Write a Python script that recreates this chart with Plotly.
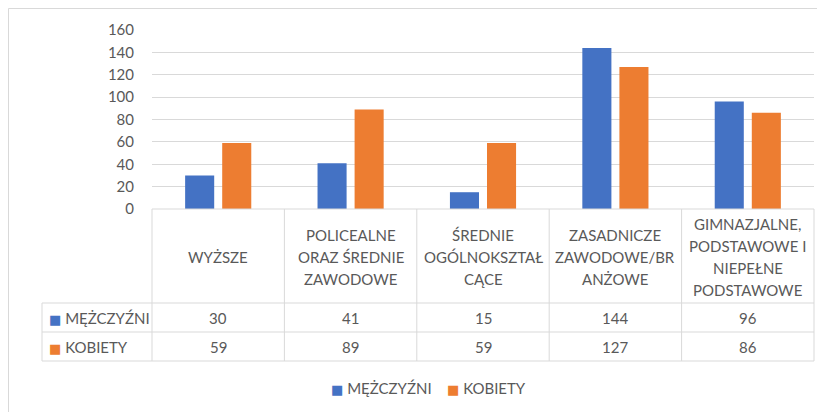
import plotly.graph_objects as go

# ---- data ----
categories = ["WYŻSZE", "POLICEALNE ORAZ ŚREDNIE ZAWODOWE", "ŚREDNIE OGÓLNOKSZTAŁCĄCE",
              "ZASADNICZE ZAWODOWE/BRANŻOWE", "GIMNAZJALNE, PODSTAWOWE I NIEPEŁNE PODSTAWOWE"]
header_lines = [["WYŻSZE"],
                ["POLICEALNE", "ORAZ ŚREDNIE", "ZAWODOWE"],
                ["ŚREDNIE", "OGÓLNOKSZTAŁ", "CĄCE"],
                ["ZASADNICZE", "ZAWODOWE/BR", "ANŻOWE"],
                ["GIMNAZJALNE,", "PODSTAWOWE I", "NIEPEŁNE", "PODSTAWOWE"]]
series_names = ["MĘŻCZYŹNI", "KOBIETY"]
men = [30, 41, 15, 144, 96]
women = [59, 89, 59, 127, 86]
colors = ["#4472C4", "#ED7D31"]
y_ticks = [0, 20, 40, 60, 80, 100, 120, 140, 160]

# ---- layout geometry (page pixels) ----
W, H = 825, 412
OFF = 8  # default body margin of the html page
L, R, T, B = 152, 814, 30, 209
HDR_BOTTOM, ROW1_BOTTOM, ROW2_BOTTOM = 303, 332, 361
TABLE_LEFT = 42
LEGEND_Y = 388
GRID = "#D9D9D9"
TXT = "#595959"
FONT = "Lato, DejaVu Sans, sans-serif"
FS = 15


def py(p):
    return (B - p) / (B - T)


def px(p):
    return (p - L) / (R - L)


def key(col, name):
    return f'<span style="color:{col};font-size:13px">■</span> {name}'


fig = go.Figure()
for name, vals, col in zip(series_names, [men, women], colors):
    fig.add_trace(go.Bar(x=categories, y=vals, name=name, marker=dict(color=col, line=dict(width=0)),
                         showlegend=False))

shapes = []
line = dict(color=GRID, width=1)
# outer chart border
shapes.append(dict(type="rect", xref="paper", yref="paper", x0=px(8.5), x1=px(840), y0=py(8.5), y1=py(430),
                   line=line, layer="below"))
# table horizontal lines
shapes.append(dict(type="line", xref="paper", yref="paper", x0=0, x1=1, y0=py(B), y1=py(B), line=line))
for yy in [HDR_BOTTOM, ROW1_BOTTOM, ROW2_BOTTOM]:
    shapes.append(dict(type="line", xref="paper", yref="paper", x0=px(TABLE_LEFT), x1=1,
                       y0=py(yy), y1=py(yy), line=line))
# vertical lines
n = len(categories)
for i in range(n + 1):
    shapes.append(dict(type="line", xref="paper", yref="paper", x0=i / n, x1=i / n,
                       y0=py(B), y1=py(ROW2_BOTTOM), line=line))
shapes.append(dict(type="line", xref="paper", yref="paper", x0=px(TABLE_LEFT), x1=px(TABLE_LEFT),
                   y0=py(HDR_BOTTOM), y1=py(ROW2_BOTTOM), line=line))

ann = []
font = dict(family=FONT, size=FS, color=TXT)
hdr_center = (B + HDR_BOTTOM) / 2 + 1
spacing = 21.7
for cat, lines in zip(categories, header_lines):
    k = len(lines)
    for j, ln in enumerate(lines):
        yc = hdr_center + (j - (k - 1) / 2) * spacing
        ann.append(dict(x=cat, xref="x", y=py(yc), yref="paper", text=ln, showarrow=False,
                        xanchor="center", yanchor="middle", font=font))

row_centers = [(HDR_BOTTOM + ROW1_BOTTOM) / 2 + 0.5, (ROW1_BOTTOM + ROW2_BOTTOM) / 2 + 0.5]
for name, vals, col, yc in zip(series_names, [men, women], colors, row_centers):
    ann.append(dict(x=px(47), xref="paper", y=py(yc), yref="paper",
                    text=key(col, name), showarrow=False,
                    xanchor="left", yanchor="middle", font=font))
    for cat, v in zip(categories, vals):
        ann.append(dict(x=cat, xref="x", y=py(yc), yref="paper", text=str(v), showarrow=False,
                        xanchor="center", yanchor="middle", font=font))

# legend
for name, col, lx in zip(series_names, colors, [329, 445]):
    ann.append(dict(x=px(lx), xref="paper", y=py(LEGEND_Y), yref="paper",
                    text=key(col, name), showarrow=False,
                    xanchor="left", yanchor="middle", font=font))

fig.update_layout(
    width=W - OFF, height=H - OFF,
    margin=dict(l=L - OFF, r=W - R, t=T - OFF, b=H - B, pad=0),
    paper_bgcolor="white", plot_bgcolor="white",
    barmode="group", bargap=0.44, bargroupgap=0.216,
    font=dict(family=FONT, size=FS, color=TXT),
    xaxis=dict(showticklabels=False, showgrid=False, zeroline=False, showline=False, ticks=""),
    yaxis=dict(range=[0, 160], tickvals=y_ticks, showgrid=True, gridcolor=GRID, gridwidth=1,
               zeroline=False, showline=False, ticks="", ticklabelstandoff=17,
               tickfont=dict(family=FONT, size=FS, color=TXT)),
    shapes=shapes, annotations=ann, showlegend=False,
)

fig.write_html("out.html", config={"displayModeBar": False})
